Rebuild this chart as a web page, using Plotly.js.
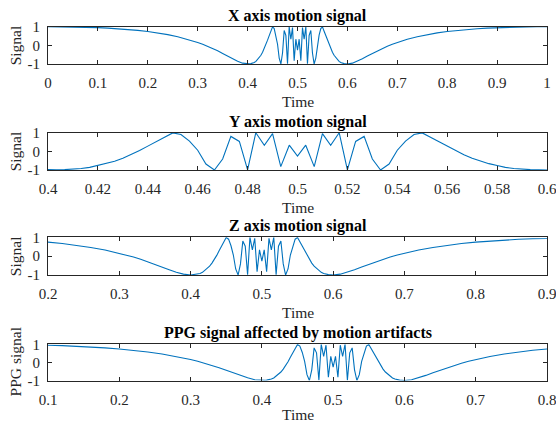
<!DOCTYPE html>
<html>
<head>
<meta charset="utf-8">
<script src="https://cdn.plot.ly/plotly-3.0.1.min.js"></script>
<style>html,body{margin:0;padding:0;background:#fff;}#chart{width:556px;height:425px;}</style>
</head>
<body>
<div id="chart"></div>
<script>
// Sample times
const time = [
  0, 0.02, 0.04, 0.06, 0.08, 0.10, 0.12, 0.14, 0.16, 0.18, 0.20, 0.22, 0.24, 0.26, 0.28, 0.30,
  0.31, 0.32, 0.33, 0.34, 0.35, 0.36, 0.37, 0.38, 0.39,
  0.4000, 0.4033, 0.4067, 0.4100, 0.4133, 0.4167, 0.4200, 0.4233, 0.4267, 0.4300,
  0.4333, 0.4367, 0.4400, 0.4433, 0.4467, 0.4500, 0.4533, 0.4567, 0.4600, 0.4633,
  0.4667, 0.4700, 0.4733, 0.4767, 0.4800, 0.4833, 0.4867, 0.4900, 0.4933, 0.4967,
  0.5000,
  0.5033, 0.5067, 0.5100, 0.5133, 0.5167, 0.5200, 0.5233, 0.5267, 0.5300, 0.5333,
  0.5367, 0.5400, 0.5433, 0.5467, 0.5500, 0.5533, 0.5567, 0.5600, 0.5633, 0.5667,
  0.5700, 0.5733, 0.5767, 0.5800, 0.5833, 0.5867, 0.5900, 0.5933, 0.5967, 0.6000,
  0.61, 0.62, 0.63, 0.64, 0.65, 0.66, 0.67, 0.68, 0.69,
  0.70, 0.72, 0.74, 0.76, 0.78, 0.80, 0.82, 0.84, 0.86, 0.88, 0.90, 0.92, 0.94, 0.96, 0.98, 1.00
];
// Signal values
const signal = [
  1.00, 0.998, 0.993, 0.984, 0.970, 0.951, 0.926, 0.894, 0.854, 0.804, 0.743, 0.668, 0.577, 0.463, 0.325, 0.156,
  0.059, -0.048, -0.166, -0.294, -0.432, -0.574, -0.718, -0.850, -0.955,
  -1.00, -0.99, -0.98, -0.96, -0.92, -0.86, -0.76, -0.66, -0.53, -0.37,
  -0.18, 0.04, 0.28, 0.52, 0.76, 0.99, 0.90, 0.55, 0.06, -0.68,
  -1.00, -0.41, 0.80, 0.53, -0.99, 1.00, 0.33, 0.95, -0.82, 0.33,
  -0.26,
  0.33, -0.82, 0.95, 0.33, 1.00, -0.99, 0.53, 0.80, -0.41, -1.00,
  -0.68, 0.06, 0.55, 0.90, 0.99, 0.76, 0.52, 0.28, 0.04, -0.18,
  -0.37, -0.53, -0.66, -0.76, -0.86, -0.92, -0.96, -0.98, -0.99, -1.00,
  -0.955, -0.850, -0.718, -0.574, -0.432, -0.294, -0.166, -0.048, 0.059,
  0.156, 0.325, 0.463, 0.577, 0.668, 0.743, 0.804, 0.854, 0.894, 0.926, 0.951, 0.970, 0.984, 0.993, 0.998, 1.00
];

const titles = ["X axis motion signal", "Y axis motion signal", "Z axis motion signal", "PPG signal affected by motion artifacts"];
const yLabels = ["Signal", "Signal", "Signal", "PPG signal"];
const xLabel = "Time";
const xRanges = [[0, 1], [0.4, 0.6], [0.2, 0.9], [0.1, 0.8]];
const xTicks = [
  [0, 0.1, 0.2, 0.3, 0.4, 0.5, 0.6, 0.7, 0.8, 0.9, 1],
  [0.4, 0.42, 0.44, 0.46, 0.48, 0.5, 0.52, 0.54, 0.56, 0.58, 0.6],
  [0.2, 0.3, 0.4, 0.5, 0.6, 0.7, 0.8, 0.9],
  [0.1, 0.2, 0.3, 0.4, 0.5, 0.6, 0.7, 0.8]
];
const xTickText = [
  ["0", "0.1", "0.2", "0.3", "0.4", "0.5", "0.6", "0.7", "0.8", "0.9", "1"],
  ["0.4", "0.42", "0.44", "0.46", "0.48", "0.5", "0.52", "0.54", "0.56", "0.58", "0.6"],
  ["0.2", "0.3", "0.4", "0.5", "0.6", "0.7", "0.8", "0.9"],
  ["0.1", "0.2", "0.3", "0.4", "0.5", "0.6", "0.7", "0.8"]
];
const yTicks = [-1, 0, 1];
const yTickText = ["-1", "0", "1"];

const H = 425;
// plot-area top/bottom in px
const tops = [26.7, 132.7, 237.3, 344.3];
const bottoms = [64, 170, 275, 380.5];

const FONT = "Liberation Serif, Times New Roman, Times, serif";
const AX = '#262626';
const traces = [];
const layout = {
  width: 556, height: 425,
  margin: {l: 48, r: 9, t: 0, b: 0},
  paper_bgcolor: '#fff', plot_bgcolor: '#fff',
  showlegend: false,
  font: {family: FONT, size: 14, color: AX},
  annotations: []
};

for (let i = 0; i < 4; i++) {
  const s = i === 0 ? '' : String(i + 1);
  traces.push({
    x: time, y: signal, type: 'scatter', mode: 'lines',
    xaxis: 'x' + s, yaxis: 'y' + s,
    line: {color: '#0072BD', width: 1.1},
    hoverinfo: 'skip'
  });
  const dom = [1 - bottoms[i] / H, 1 - tops[i] / H];
  const r = xRanges[i];
  layout['xaxis' + s] = {
    domain: [0, 1], anchor: 'y' + s, range: [r[0] - 1e-6, r[1] + 1e-6],
    tickmode: 'array', tickvals: xTicks[i], ticktext: xTickText[i],
    ticks: 'inside', ticklen: 4, tickwidth: 1, tickcolor: AX,
    showline: true, linecolor: AX, linewidth: 1, mirror: 'ticks',
    showgrid: false, zeroline: false, automargin: false,
    tickfont: {family: FONT, size: 15, color: AX},
    ticklabelstandoff: 5, ticklabeloverflow: 'allow'
  };
  layout['yaxis' + s] = {
    domain: dom, anchor: 'x' + s, range: [-1, 1],
    tickmode: 'array', tickvals: yTicks, ticktext: yTickText,
    ticks: 'inside', ticklen: 4, tickwidth: 1, tickcolor: AX,
    showline: true, linecolor: AX, linewidth: 1, mirror: 'ticks',
    showgrid: false, zeroline: false, automargin: false,
    tickfont: {family: FONT, size: 15, color: AX},
    ticklabelstandoff: 4
  };
  // subplot title
  layout.annotations.push({
    text: '<b>' + titles[i] + '</b>', xref: 'paper', yref: 'paper',
    x: 0.5, y: dom[1], xanchor: 'center', yanchor: 'bottom', yshift: 0,
    showarrow: false, font: {family: FONT, size: 16, color: '#000'}
  });
  // x label
  if (i < 3) {
    layout.annotations.push({
      text: xLabel, xref: 'paper', yref: 'paper',
      x: 0.5, y: dom[0], xanchor: 'center', yanchor: 'top', yshift: -27,
      showarrow: false, font: {family: FONT, size: 15.5, color: AX}
    });
  } else {
    layout.annotations.push({
      text: xLabel, xref: 'paper', yref: 'paper',
      x: 0.5, y: 0, xanchor: 'center', yanchor: 'bottom', yshift: 0,
      showarrow: false, font: {family: FONT, size: 15.5, color: AX}
    });
  }
  // y label
  layout.annotations.push({
    text: yLabels[i], xref: 'paper', yref: 'paper', textangle: -90,
    x: 0, y: (dom[0] + dom[1]) / 2, xanchor: 'center', yanchor: 'middle', xshift: -33,
    showarrow: false, font: {family: FONT, size: 15.5, color: AX}
  });
}

Plotly.newPlot('chart', traces, layout, {staticPlot: true, displayModeBar: false});
</script>
</body>
</html>
